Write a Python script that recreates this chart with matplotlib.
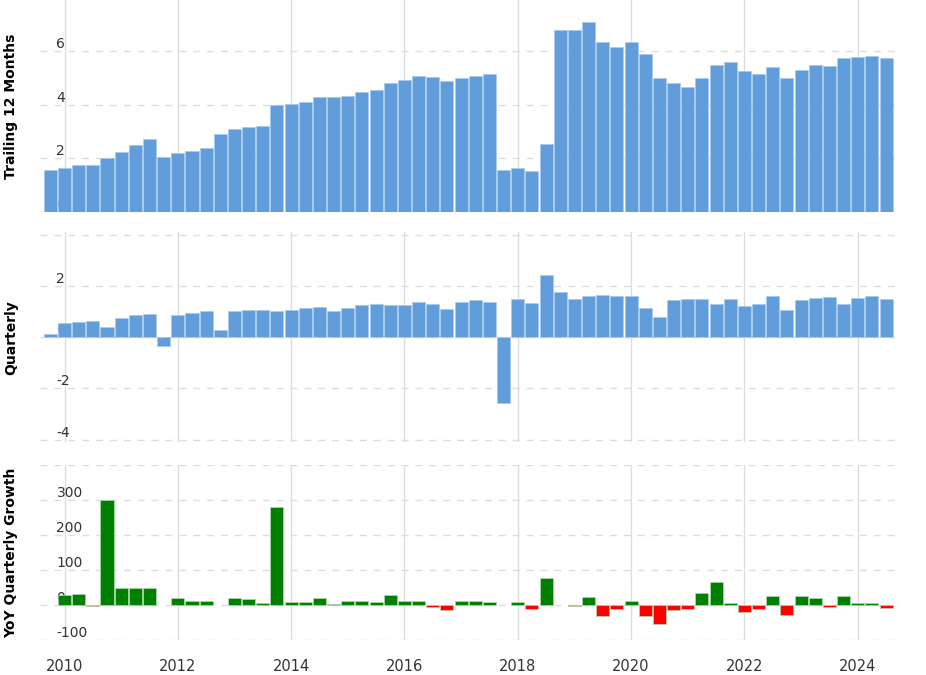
import matplotlib
matplotlib.use("Agg")
import matplotlib.pyplot as plt
import numpy as np

start_year = 2009.75
ttm = [1.57,1.65,1.76,1.76,2.02,2.25,2.51,2.73,2.06,2.21,2.28,2.40,2.92,3.11,3.18,3.22,
       3.97,4.01,4.08,4.27,4.27,4.34,4.46,4.53,4.79,4.91,5.06,5.02,4.87,4.98,5.06,5.13,
       1.57,1.65,1.54,2.55,6.78,6.78,7.08,6.33,6.14,6.33,5.88,4.98,4.79,4.64,4.98,5.47,
       5.58,5.24,5.13,5.39,4.98,5.28,5.47,5.43,5.73,5.77,5.81,5.73]
quarterly = [0.12,0.55,0.58,0.62,0.39,0.74,0.86,0.89,-0.35,0.86,0.93,1.01,0.27,1.01,1.05,1.05,
             1.01,1.05,1.13,1.17,1.01,1.13,1.25,1.28,1.25,1.25,1.36,1.28,1.09,1.36,1.44,1.36,
             -2.57,1.48,1.32,2.41,1.75,1.48,1.60,1.63,1.60,1.60,1.13,0.78,1.44,1.48,1.48,1.28,
             1.48,1.21,1.28,1.60,1.05,1.44,1.52,1.56,1.28,1.52,1.60,1.48]
yoy = [np.nan,27,30,-3,300,48,48,48,np.nan,20,12,12,np.nan,20,16,6,
       280,9,9,20,3,12,12,9,27,12,12,-5,-14,12,10,9,
       np.nan,9,-12,77,np.nan,-2,23,-32,-12,11,-32,-55,-14,-12,33,67,
       6,-21,-12,26,-29,26,20,-5,26,6,6,-8]
year_ticks = [2010,2012,2014,2016,2018,2020,2022,2024]

x = start_year + 0.25*np.arange(len(ttm))
W = 0.23
fig = plt.figure(figsize=(9.26,6.75), dpi=100)
xl = (2009.564, 2024.65)
axes = [fig.add_axes([0.043,0.686,0.923,0.314]),
        fig.add_axes([0.043,0.345,0.923,0.311]),
        fig.add_axes([0.043,0.052,0.923,0.259])]

def style(ax, yticks, labels, ylabel):
    ax.set_xlim(*xl)
    for s in ax.spines.values(): s.set_visible(False)
    ax.set_xticks(year_ticks)
    ax.grid(axis='x', color='#dddddd', lw=1, ls='-')
    ax.set_yticks(yticks)
    ax.set_yticklabels(labels)
    ax.grid(axis='y', color='#dddddd', lw=1, ls=(0,(5,5)))
    ax.set_axisbelow(True)
    ax.tick_params(axis='y', length=0, pad=-12, labelsize=10, colors='#333333')
    for lab in ax.get_yticklabels():
        lab.set_ha('left'); lab.set_va('bottom')
    ax.tick_params(axis='x', length=0, labelsize=10.5, colors='#333333')
    ax.set_ylabel(ylabel, fontsize=10, fontweight='bold', labelpad=12)

a0, a1, a2 = axes
a0.bar(x, ttm, width=W, color='#619cdb', edgecolor='#a9c9ec', lw=0.5)
a0.set_ylim(0, 7.9)
style(a0, [0,2,4,6], ['0','2','4','6'], 'Trailing 12 Months')
a0.tick_params(axis='x', labelbottom=False)

a1.bar(x, quarterly, width=W, color='#619cdb', edgecolor='#a9c9ec', lw=0.5)
a1.set_ylim(-4.1, 4.1)
style(a1, [-4,-2,0,2,4], ['-4','-2','0','2',''], 'Quarterly')
a1.tick_params(axis='x', labelbottom=False)

yv = np.array(yoy, dtype=float)
cols = ['#008000' if v >= 0 else '#ff0000' for v in np.nan_to_num(yv)]
a2.bar(x, yv, width=W, color=cols, edgecolor='#b0d8b0', lw=0.5)
a2.set_ylim(-100, 400)
style(a2, [-100,0,100,200,300,400], ['-100','0','100','200','300',''], 'YoY Quarterly Growth')
a2.tick_params(axis='x', pad=14)

for ax in axes:
    ax.yaxis.set_label_coords(-0.025, 0.5)

fig.savefig('out.png', dpi=100)
